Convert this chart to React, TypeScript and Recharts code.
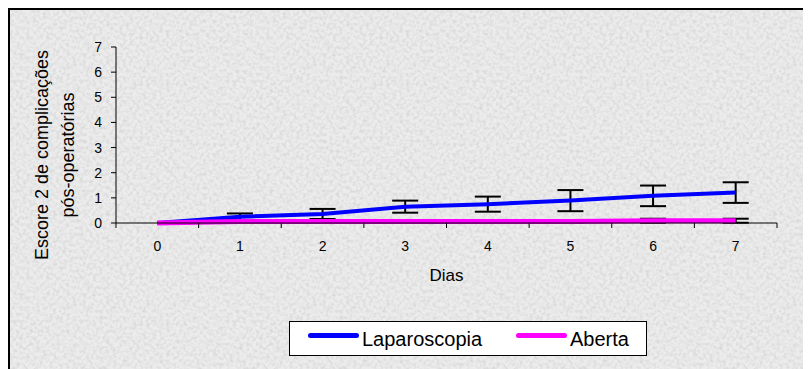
import React from 'react';
import { ComposedChart, Line, XAxis, YAxis, ErrorBar, Legend } from 'recharts';

const days = [0, 1, 2, 3, 4, 5, 6, 7];
const laparoscopia = [0, 0.25, 0.36, 0.65, 0.75, 0.89, 1.08, 1.21];
const laparoscopiaErr = [0, 0.13, 0.2, 0.24, 0.3, 0.42, 0.41, 0.41];
const aberta = [0, 0.06, 0.06, 0.06, 0.06, 0.06, 0.09, 0.09];
const abertaErr = [0, 0.05, 0.05, 0.05, 0.05, 0.05, 0.08, 0.08];
const yTicks = [0, 1, 2, 3, 4, 5, 6, 7];
const xTicks = [-0.5, 0, 0.5, 1, 1.5, 2, 2.5, 3, 3.5, 4, 4.5, 5, 5.5, 6, 6.5, 7, 7.5];
const seriesNames = ['Laparoscopia', 'Aberta'];
const seriesColors = ['#0000ff', '#ff00ff'];
const yLabelLines = ['Escore 2 de complicações', 'pós-operatórias'];
const xLabel = 'Dias';

const data = days.map((d, i) => ({
  day: d,
  lap: laparoscopia[i],
  lapErr: laparoscopiaErr[i],
  abe: aberta[i],
  abeErr: abertaErr[i],
}));

const FONT = "Arial, 'Liberation Sans', sans-serif";

const noiseSvg =
  "<svg xmlns='http://www.w3.org/2000/svg' width='240' height='240'><filter id='n' x='0' y='0' width='1' height='1'><feTurbulence type='fractalNoise' baseFrequency='0.3' numOctaves='2' seed='7'/><feColorMatrix type='matrix' values='0 0 0 0 0.6  0 0 0 0 0.6  0 0 0 0 0.6  1.4 0 0 0 -0.55'/></filter><rect x='0' y='0' width='240' height='240' fill='#ececec'/><rect x='0' y='0' width='240' height='240' filter='url(#n)'/></svg>";
const noise = `url("data:image/svg+xml,${encodeURIComponent(noiseSvg)}")`;

const XTick = (props: any) => {
  const { x, y, payload } = props;
  const v = payload.value;
  if (!Number.isInteger(v)) {
    return <line x1={x} x2={x} y1={y} y2={y + 5} stroke="#000" strokeWidth={1} />;
  }
  return (
    <text x={x} y={y + 28} textAnchor="middle" fontSize={14} fill="#000" fontFamily={FONT}>
      {v}
    </text>
  );
};

const YLabel = (props: any) => {
  const vb = props.viewBox || {};
  const cy = vb.y + vb.height / 2 + 20;
  const xs = [32, 58];
  return (
    <g>
      {yLabelLines.map((t, i) => (
        <text
          key={i}
          x={xs[i]}
          y={cy}
          transform={`rotate(-90 ${xs[i]} ${cy})`}
          textAnchor="middle"
          dominantBaseline="central"
          fontSize={18}
          fill="#000"
          fontFamily={FONT}
        >
          {t}
        </text>
      ))}
    </g>
  );
};

const XLabel = (props: any) => {
  const vb = props.viewBox || {};
  return (
    <text x={vb.x + vb.width / 2} y={vb.y + 58} textAnchor="middle" fontSize={17} fill="#000" fontFamily={FONT}>
      {xLabel}
    </text>
  );
};

const LegendBox = (props: any) => {
  const payload = [...(props.payload || [])].sort(
    (a: any, b: any) => seriesNames.indexOf(a.value) - seriesNames.indexOf(b.value)
  );
  const lefts = [18, 226];
  return (
    <div
      style={{
        boxSizing: 'border-box',
        width: 358,
        height: 35,
        border: '1px solid #000',
        background: '#fff',
        position: 'relative',
        fontFamily: FONT,
        fontSize: 20,
        color: '#000',
      }}
    >
      {payload.map((p: any, i: number) => (
        <React.Fragment key={i}>
          <div
            style={{
              position: 'absolute',
              left: lefts[i],
              top: 11,
              width: 51,
              height: 5,
              borderRadius: 3,
              background: p.color,
            }}
          />
          <div style={{ position: 'absolute', left: lefts[i] + 54, top: 5, lineHeight: '24px', whiteSpace: 'nowrap' }}>
            {p.value}
          </div>
        </React.Fragment>
      ))}
    </div>
  );
};

export default function App() {
  return (
    <div
      style={{
        width: 803,
        height: 361,
        boxSizing: 'border-box',
        borderTop: '2px solid #000',
        borderLeft: '2px solid #000',
        backgroundColor: '#e6e6e6',
        backgroundImage: noise,
        fontFamily: FONT,
      }}
    >
      <ComposedChart width={801} height={351} data={data} margin={{ top: 37, right: 34, left: 0, bottom: 78 }}>
        <XAxis
          dataKey="day"
          type="number"
          domain={[-0.5, 7.5]}
          ticks={xTicks}
          interval={0}
          tickLine={false}
          tickSize={0}
          tickMargin={0}
          tick={<XTick />}
          axisLine={{ stroke: '#000', strokeWidth: 1 }}
          height={60}
          label={<XLabel />}
        />
        <YAxis
          type="number"
          domain={[0, 7]}
          ticks={yTicks}
          interval={0}
          width={106}
          tickSize={5}
          tickMargin={9}
          axisLine={{ stroke: '#000', strokeWidth: 1 }}
          tickLine={{ stroke: '#000', strokeWidth: 1 }}
          tick={{ fontSize: 14, fill: '#000', fontFamily: FONT }}
          label={<YLabel />}
        />
        <Line
          dataKey="lap"
          name={seriesNames[0]}
          stroke={seriesColors[0]}
          strokeWidth={4}
          dot={false}
          isAnimationActive={false}
          type="linear"
        >
          <ErrorBar dataKey="lapErr" width={13} stroke="#000" strokeWidth={2} direction="y" />
        </Line>
        <Line
          dataKey="abe"
          name={seriesNames[1]}
          stroke={seriesColors[1]}
          strokeWidth={5}
          dot={false}
          isAnimationActive={false}
          type="linear"
        >
          <ErrorBar dataKey="abeErr" width={13} stroke="#000" strokeWidth={2} direction="y" />
        </Line>
        <Legend
          verticalAlign="middle"
          align="center"
          layout="horizontal"
          wrapperStyle={{ position: 'absolute', left: 279, top: 311, width: 358, height: 35 }}
          content={<LegendBox />}
        />
      </ComposedChart>
    </div>
  );
}
